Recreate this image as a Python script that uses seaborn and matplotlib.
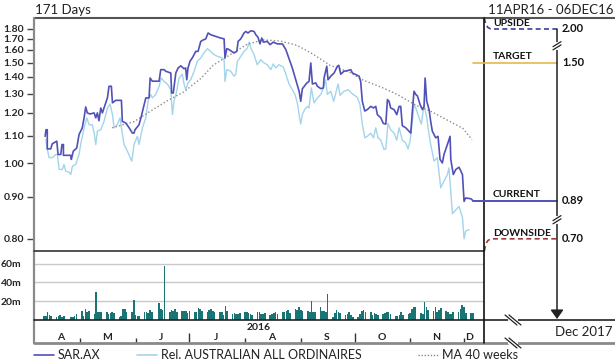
import numpy as np
import pandas as pd
import matplotlib
matplotlib.use("Agg")
import matplotlib.pyplot as plt
import matplotlib.dates as mdates
from matplotlib.path import Path
from matplotlib.patches import PathPatch
import seaborn as sns

sns.set_theme(style="white")
plt.rcParams["font.family"] = ["Lato", "DejaVu Sans"]

START = pd.Timestamp("2016-04-11")
END = pd.Timestamp("2016-12-06")
HOLIDAYS = ["2016-04-25", "2016-06-13"]

# (days after start, price) vertices of each price line
sar = [(0.6,1.098),(1.1,1.125),(1.8,1.125),(1.8,1.05),(3.7,1.05),(4.6,1.069),(7.1,1.079),(7.8,1.03),(9.3,1.03),(10.0,1.066),(10.8,1.066),(10.8,1.027),(14.9,1.027),(15.2,1.013),(16.3,1.042),(18.2,1.053),(19.5,1.105),(20.4,1.119),(21.3,1.133),(22.3,1.177),(23.2,1.229),(24.1,1.2),(25.6,1.195),(27.9,1.2),(28.8,1.177),(29.7,1.2),(30.6,1.164),(31.6,1.224),(32.5,1.2),(33.4,1.224),(35.3,1.276),(36.2,1.342),(37.5,1.342),(38.1,1.25),(39.9,1.263),(43.1,1.263),(43.6,1.161),(45.5,1.154),(47.4,1.133),(49.2,1.111),(50.1,1.111),(50.7,1.125),(52.9,1.146),(54.2,1.184),(55.3,1.224),(56.7,1.276),(58.5,1.276),(59.1,1.393),(60.3,1.373),(64.1,1.373),(65.0,1.449),(66.9,1.449),(67.8,1.438),(70.6,1.426),(71.1,1.303),(72.0,1.303),(73.4,1.426),(74.7,1.461),(76.2,1.476),(78.0,1.455),(78.9,1.461),(79.5,1.382),(80.2,1.461),(81.3,1.51),(82.6,1.535),(84.5,1.588),(85.8,1.588),(87.3,1.676),(88.7,1.69),(90.1,1.70),(91.4,1.758),(92.9,1.74),(95.7,1.724),(98.4,1.708),(100.3,1.70),(100.8,1.535),(101.8,1.611),(103.1,1.603),(105.8,1.575),(107.4,1.588),(108.1,1.676),(109.6,1.70),(111.4,1.758),(112.4,1.774),(113.6,1.758),(115.2,1.781),(117.0,1.774),(118.0,1.74),(119.2,1.715),(120.3,1.653),(121.3,1.708),(122.2,1.669),(124.4,1.676),(125.9,1.646),(127.7,1.669),(130.0,1.653),(132.8,1.653),(134.7,1.603),(137.0,1.51),(138.3,1.461),(140.2,1.382),(142.1,1.313),(143.0,1.258),(143.9,1.327),(146.4,1.362),(147.6,1.371),(148.6,1.497),(149.5,1.356),(151.4,1.362),(152.3,1.342),(154.2,1.328),(155.6,1.332),(156.0,1.393),(157.5,1.473),(158.2,1.382),(159.7,1.405),(161.6,1.426),(163.4,1.473),(164.2,1.48),(165.3,1.418),(167.1,1.438),(169.0,1.442),(170.9,1.449),(171.8,1.426),(175.5,1.405),(176.4,1.371),(177.3,1.258),(178.7,1.209),(180.1,1.216),(182.0,1.232),(183.5,1.224),(184.8,1.232),(185.7,1.192),(187.6,1.177),(189.0,1.152),(190.4,1.149),(191.3,1.267),(192.2,1.258),(193.1,1.224),(195.0,1.216),(196.5,1.192),(197.8,1.232),(198.7,1.232),(199.6,1.142),(201.5,1.133),(203.3,1.119),(204.3,1.111),(205.2,1.209),(206.1,1.313),(207.1,1.295),(208.0,1.287),(209.5,1.241),(210.8,1.216),(211.7,1.232),(212.3,1.393),(213.2,1.258),(214.5,1.216),(215.4,1.161),(216.3,1.119),(218.2,1.092),(219.5,1.098),(220.6,1.013),(221.9,1.001),(222.8,1.03),(224.7,1.066),(226.2,1.098),(226.6,1.013),(228.0,0.964),(229.4,0.98),(231.2,0.987),(233.1,0.964),(234.0,0.888),(234.9,0.897),(237.7,0.895),(239.0,0.89)]

rel = [(1.0,1.085),(1.8,1.048),(2.8,1.019),(4.6,1.019),(6.5,1.03),(7.4,1.03),(8.4,0.98),(10.2,0.98),(11.1,0.996),(12.1,0.974),(13.9,0.972),(14.9,0.964),(15.8,0.99),(17.6,0.996),(19.5,1.03),(20.4,1.066),(22.3,1.133),(23.8,1.177),(25.1,1.146),(26.9,1.146),(27.9,1.111),(28.8,1.066),(29.7,1.119),(31.6,1.125),(33.4,1.161),(35.3,1.224),(36.8,1.244),(38.1,1.192),(39.0,1.133),(40.8,1.146),(42.3,1.177),(43.1,1.133),(44.6,1.066),(46.4,1.042),(48.9,1.007),(50.1,1.066),(52.0,1.098),(52.9,1.066),(54.8,1.133),(56.7,1.177),(58.1,1.267),(59.4,1.295),(60.3,1.276),(62.2,1.295),(64.1,1.342),(65.3,1.393),(66.9,1.371),(68.7,1.356),(70.6,1.322),(71.5,1.192),(72.4,1.258),(73.9,1.313),(75.2,1.393),(77.0,1.418),(78.0,1.356),(78.9,1.322),(80.2,1.362),(81.7,1.382),(83.6,1.438),(85.4,1.51),(87.3,1.535),(89.1,1.575),(91.0,1.611),(92.9,1.588),(94.7,1.561),(96.5,1.548),(98.4,1.54),(100.3,1.522),(100.8,1.371),(101.8,1.449),(104.0,1.438),(105.8,1.405),(106.8,1.418),(107.7,1.51),(109.6,1.548),(111.4,1.588),(113.3,1.617),(114.2,1.669),(115.2,1.617),(117.0,1.561),(118.8,1.484),(120.7,1.522),(122.6,1.497),(124.4,1.484),(126.3,1.449),(127.7,1.49),(129.1,1.461),(130.9,1.484),(133.3,1.467),(134.7,1.418),(136.5,1.356),(138.3,1.322),(139.8,1.295),(141.1,1.25),(142.1,1.192),(143.0,1.149),(143.9,1.192),(145.2,1.216),(146.7,1.232),(147.6,1.224),(148.9,1.332),(150.4,1.25),(152.3,1.276),(154.2,1.295),(155.6,1.332),(156.9,1.382),(157.8,1.295),(159.7,1.313),(161.4,1.258),(163.8,1.356),(164.9,1.29),(167.1,1.313),(169.4,1.322),(171.8,1.298),(174.5,1.279),(176.0,1.241),(177.3,1.149),(178.7,1.092),(180.1,1.098),(182.0,1.111),(183.5,1.092),(184.8,1.133),(186.1,1.092),(187.6,1.083),(189.4,1.048),(190.4,1.05),(191.6,1.152),(193.1,1.125),(195.0,1.111),(196.5,1.083),(197.8,1.133),(199.6,1.083),(201.5,1.072),(202.8,1.05),(203.9,1.079),(205.2,1.161),(206.1,1.241),(207.1,1.224),(208.9,1.177),(210.2,1.149),(211.7,1.241),(213.2,1.177),(214.5,1.105),(215.4,1.066),(217.3,1.007),(219.1,1.019),(221.0,0.925),(222.8,0.944),(224.7,0.964),(225.6,0.985),(227.5,0.857),(229.4,0.866),(231.2,0.875),(233.1,0.848),(234.0,0.80),(234.9,0.817),(236.8,0.82)]

ma40 = [(37.9,1.133),(50.1,1.16),(59.6,1.21),(68.5,1.26),(78.0,1.31),(87.3,1.39),(94.2,1.48),(103.6,1.56),(113.1,1.65),(122.0,1.69),(131.5,1.68),(141.0,1.64),(149.9,1.565),(159.3,1.48),(170.5,1.43),(177.7,1.38),(189.4,1.33),(196.7,1.295),(207.8,1.235),(215.0,1.21),(226.2,1.16),(233.4,1.13),(238.4,1.085)]

# daily volume in millions, grouped by trading week
volume = [
    4, 4, 9, 5, 4,   3, 4, 5, 3, 4,   3, 3, 4, 6,
    10, 4, 12, 9, 10,   6, 30, 9, 8, 8,   9, 6, 7, 8, 7,   3, 4, 12, 12, 8,
    9, 21, 5, 4, 4,   8, 8, 7, 11, 9,   18, 12, 11, 57,   9, 11, 10, 12, 9,
    10, 10, 10, 7, 10,   8, 9, 13, 12, 10,   9, 11, 12, 10, 8,   8, 9, 5, 15, 10,
    6, 7, 6, 6, 7,   8, 8, 7, 6, 5,   8, 8, 6, 6, 7,   5, 6, 7, 9, 6,
    8, 9, 10, 11, 7,   12, 11, 14, 11, 10,   10, 9, 20, 9, 9,   14, 10, 10, 9, 28,
    3, 7, 11, 9, 7,   5, 6, 8, 5, 3,   3, 6, 10, 11, 8,   8, 5, 7, 6, 5,
    6, 7, 8, 9, 6,   4, 4, 5, 9, 5,   6, 7, 12, 14, 14,   7, 6, 19, 14, 11,
    10, 14, 8, 11, 13,   10, 8, 6, 6, 8,   8, 12, 16, 14, 7,   7, 7,
]

price_ticks = [0.80, 0.90, 1.00, 1.10, 1.20, 1.30, 1.40, 1.50, 1.60, 1.70, 1.80]
vol_ticks = [20, 40, 60]

upside, target, downside = 2.00, 1.50, 0.70
forecast_label = "Dec 2017"

SAR_C = "#5151b9"
REL_C = "#a3d5ea"
MA_C = "#8c8c8c"
VOL_C = "#1b7474"
TGT_C = "#e8b84a"
DOWN_C = "#a23a3a"
UP_C = "#3d3da3"


def to_num(days):
    return mdates.date2num(START + pd.to_timedelta(np.asarray(days), unit="D"))


def split(pairs):
    d, v = zip(*pairs)
    return to_num(d), np.array(v)


sar_x, sar_y = split(sar)
rel_x, rel_y = split(rel)
ma_x, ma_y = split(ma40)

trade_days = pd.bdate_range(START, END)
trade_days = trade_days[~trade_days.isin(pd.to_datetime(HOLIDAYS))]
vol_x = mdates.date2num(trade_days)

W, H = 615, 364
fig = plt.figure(figsize=(W / 100, H / 100), dpi=100)


def rect(x0, y0, x1, y1):
    return [x0 / W, 1 - y1 / H, (x1 - x0) / W, (y1 - y0) / H]


ax = fig.add_axes(rect(34, 18, 484, 251))
axv = fig.add_axes(rect(34, 251, 484, 320), sharex=ax)
axm = fig.add_axes(rect(34, 320, 484, 343), sharex=ax)


def fwd(p):
    with np.errstate(divide="ignore"):
        return -1.0 / np.asarray(p, dtype=float)


def inv(q):
    with np.errstate(divide="ignore"):
        return -1.0 / np.asarray(q, dtype=float)


# ---- price panel ----
sns.lineplot(x=rel_x, y=rel_y, ax=ax, sort=False, estimator=None, color=REL_C, linewidth=1.0)
sns.lineplot(x=ma_x, y=ma_y, ax=ax, sort=False, estimator=None, color=MA_C,
             linewidth=1.0, linestyle=(0, (1, 1.6)))
sns.lineplot(x=sar_x, y=sar_y, ax=ax, sort=False, estimator=None, color=SAR_C, linewidth=1.2)
ax.set_yscale("function", functions=(fwd, inv))
ax.set_ylim(0.775, 1.926)
ax.set_xlim(mdates.date2num(START) - 5.6, mdates.date2num(START) + 245.1)
ax.set_yticks(price_ticks)
ax.set_yticklabels([f"{t:.2f}" for t in price_ticks], fontsize=7.5, fontweight="bold")
ax.yaxis.set_minor_locator(matplotlib.ticker.NullLocator())
ax.tick_params(axis="y", left=True, direction="out", length=5, width=1, color="#444", pad=2)
ax.tick_params(axis="x", bottom=False, labelbottom=False)
ax.set_xlabel("")
ax.set_ylabel("")
for s in ax.spines.values():
    s.set_visible(False)

# ---- volume panel ----
sns.histplot(x=vol_x, weights=volume, discrete=True, shrink=0.9, ax=axv,
             color=VOL_C, alpha=1, linewidth=0)
axv.set_ylim(0, 73.5)
axv.set_yticks(vol_ticks)
axv.set_yticklabels([f"{t}m" for t in vol_ticks], fontsize=7.5, fontweight="bold")
axv.yaxis.grid(True, color="#c9c9c9", linewidth=1)
axv.set_axisbelow(True)
axv.tick_params(axis="y", left=False, pad=3)
axv.tick_params(axis="x", bottom=False, labelbottom=False)
axv.set_xlabel("")
axv.set_ylabel("")
for s in axv.spines.values():
    s.set_visible(False)

# ---- month strip ----
axm.set_ylim(0, 1)
axm.set_yticks([])
axm.tick_params(axis="x", bottom=False, labelbottom=False)
for s in axm.spines.values():
    s.set_visible(False)
first, last = trade_days[0], trade_days[-1]
for ms in pd.date_range(START.to_period("M").to_timestamp(), END, freq="MS"):
    me = ms + pd.offsets.MonthEnd(0)
    a, b = max(ms, first), min(me, last)
    centre = (mdates.date2num(a) + mdates.date2num(b)) / 2
    axm.text(centre, 0.24, ms.strftime("%b")[0], ha="center", va="center",
             fontsize=7.5, fontweight="bold", color="#222")
    if ms > first:
        h = 0.45 if ms.month in (1, 4, 7, 10) else 0.22
        axm.vlines(mdates.date2num(ms), 0, h, color="#333", linewidth=1)
axm.text(0.5, 0.68, str(START.year), transform=axm.transAxes, ha="center",
         va="center", fontsize=7.5, fontweight="bold", color="#222")

# ---- overlay: frame, scenario column, legend ----
ov = fig.add_axes([0, 0, 1, 1], zorder=10)
ov.set_xlim(0, W)
ov.set_ylim(H, 0)
ov.axis("off")


def py(v):
    return H - ax.transData.transform((ax.get_xlim()[0], v))[1]


def level(v):
    return min(max(v, price_ticks[0]), price_ticks[-1])


ov.plot([34, W], [18, 18], color="#555", lw=1.5, solid_capstyle="butt")
ov.plot([34, 34], [18, 343], color="#8a8a8a", lw=1.6)
ov.plot([34, W], [343, 343], color="#8a8a8a", lw=2.0)
ov.plot([34, 484], [251, 251], color="#333", lw=1.2)
ov.plot([34, W], [320, 320], color="#222", lw=1.2)
ov.plot([484, 484], [18, 343], color="#111", lw=1.2)

current = sar_y[-1]
x_end = ax.transData.transform((sar_x[-1], current))[0]
y_up, y_tg, y_cu, y_dn = py(level(upside)), py(target), py(current), py(level(downside))
x_bar = 557

ov.plot([x_end, x_bar], [y_tg, y_tg], color=TGT_C, lw=1.2)
ov.plot([x_end, x_bar], [y_cu, y_cu], color=SAR_C, lw=1.4)
for y0, yl, col in ((18, y_up, UP_C), (251, y_dn, DOWN_C)):
    path = Path([(484.5, y0), (485.5, yl), (492, yl), (x_bar, yl)],
                [Path.MOVETO, Path.CURVE3, Path.CURVE3, Path.LINETO])
    ov.add_patch(PathPatch(path, fill=False, edgecolor=col, lw=1.2, linestyle=(0, (3, 2))))

ov.annotate("", xy=(x_bar, 319), xytext=(x_bar, y_up),
            arrowprops=dict(arrowstyle="-|>,head_length=0.45,head_width=0.32",
                            color="#222", lw=1.1, shrinkA=0, shrinkB=0))
for yb in ((y_up + y_tg) / 2, (y_cu + y_dn) / 2):
    ov.plot([x_bar, x_bar], [yb - 2, yb + 2], color="white", lw=3, zorder=5)
    for dy in (-1.6, 1.6):
        ov.plot([x_bar - 4, x_bar + 4], [yb + dy + 2.5, yb + dy - 2.5], color="#222", lw=0.9, zorder=6)
for yb in (320, 343):
    ov.plot([510, 516], [yb, yb], color="white", lw=3, zorder=5)
    for dx in (-2, 2):
        ov.plot([507 + dx, 519 + dx], [yb - 5, yb + 5], color="#222", lw=0.9, zorder=6)

for name, yl, val in (("UPSIDE", y_up, upside), ("TARGET", y_tg, target),
                      ("CURRENT", y_cu, current), ("DOWNSIDE", y_dn, downside)):
    ov.text(493, yl - 1.2, name, ha="left", va="bottom", fontsize=7.5, fontweight="bold", color="#111")
    ov.text(562, yl, f"{val:.2f}", ha="left", va="center", fontsize=8, fontweight="bold", color="#111")

ov.text(612, 332, forecast_label, ha="right", va="center", fontsize=9.5, color="#222")
ov.text(35, 10, f"{len(trade_days) + 1} Days", ha="left", va="center", fontsize=9.5, color="#222")
ov.text(613, 10, f"{START.strftime('%d%b%y').upper()} - {END.strftime('%d%b%y').upper()}",
        ha="right", va="center", fontsize=9.5, color="#222")

legend_items = [
    (34, "SAR.AX", dict(color=SAR_C, lw=1.2)),
    (137, "Rel. AUSTRALIAN ALL ORDINAIRES", dict(color=REL_C, lw=1.2)),
    (418, "MA 40 weeks", dict(color=MA_C, lw=1.0, linestyle=(0, (1, 1.2)))),
]
for x0, label, style in legend_items:
    ov.plot([x0, x0 + 20], [355, 355], **style)
    ov.text(x0 + 24, 355, label, ha="left", va="center", fontsize=9, color="#222")

fig.savefig("out.png", dpi=100)
